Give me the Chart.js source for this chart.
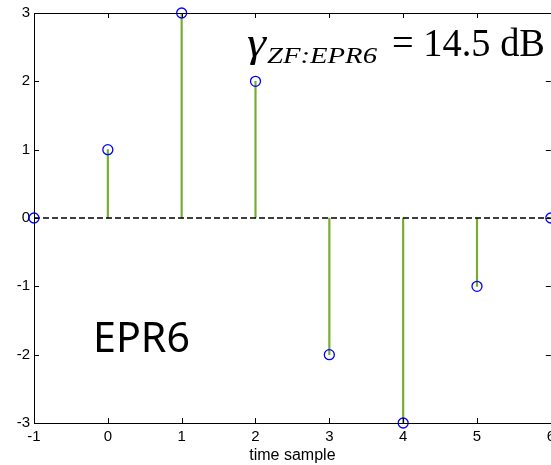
<!DOCTYPE html>
<html>
<head>
<meta charset="utf-8">
<script src="https://cdn.jsdelivr.net/npm/chart.js@4/dist/chart.umd.min.js"></script>
<style>
    html, body { margin: 0; padding: 0; background: #fff; overflow: hidden; }
    #contenedor { position: absolute; left: 0; top: 0; width: 560px; height: 465px; }
</style>
</head>
<body>
<div id="contenedor"><canvas id="grafico" width="560" height="465"></canvas></div>
<script>
// datos del grafico (stem plot)
const muestras = [-1, 0, 1, 2, 3, 4, 5, 6];
const valores = [0, 1, 3, 2, -2, -3, -1, 0];
const rangoX = [-1, 6];
const rangoY = [-3, 3];
const tituloX = 'time sample';
const etiquetaGanancia = { simbolo: 'γ', sub: 'ZF:EPR6', resto: '= 14.5 dB' };
const etiquetaCanal = 'EPR6';

const colorTallo = '#77ac30';
const colorCirculo = '#0000ff';

const puntos = muestras.map((m, i) => ({ x: m, y: valores[i] }));
const base = rangoX.map(x => ({ x: x, y: 0 }));

// texto ajustado a un ancho dado (escala horizontal)
function textoAjustado(ctx, texto, x, y, ancho, fuente) {
    ctx.save();
    ctx.font = fuente;
    ctx.textAlign = 'left';
    ctx.textBaseline = 'alphabetic';
    const w = ctx.measureText(texto).width;
    ctx.translate(x, y);
    ctx.scale(ancho / w, 1);
    ctx.fillText(texto, 0, 0);
    ctx.restore();
}

const marco = {
    id: 'marco',
    afterDraw(chart) {
        const { ctx, chartArea: a, scales } = chart;
        ctx.save();
        ctx.setLineDash([]);
        ctx.globalAlpha = 1;
        ctx.strokeStyle = '#000';
        ctx.lineWidth = 1;
        ctx.beginPath();
        ctx.rect(Math.round(a.left) + 0.5, Math.round(a.top) + 0.5,
                 Math.round(a.right - a.left), Math.round(a.bottom - a.top));
        for (let v = rangoX[0]; v <= rangoX[1]; v++) {
            const px = Math.round(scales.x.getPixelForValue(v)) + 0.5;
            ctx.moveTo(px, a.bottom); ctx.lineTo(px, a.bottom - 5);
            ctx.moveTo(px, a.top); ctx.lineTo(px, a.top + 5);
        }
        for (let v = rangoY[0]; v <= rangoY[1]; v++) {
            const py = Math.round(scales.y.getPixelForValue(v)) + 0.5;
            ctx.moveTo(a.left, py); ctx.lineTo(a.left + 5, py);
            ctx.moveTo(a.right, py); ctx.lineTo(a.right - 5, py);
        }
        ctx.stroke();

        ctx.fillStyle = '#000';
        textoAjustado(ctx, etiquetaGanancia.simbolo, 247, 56, 19, 'italic 39px "Liberation Serif"');
        textoAjustado(ctx, etiquetaGanancia.sub, 267, 63, 110, 'italic 23px "Liberation Serif"');
        textoAjustado(ctx, etiquetaGanancia.resto, 392, 56, 153, '39px "Liberation Serif"');
        textoAjustado(ctx, etiquetaCanal, 93, 352, 97, '42px "Noto Sans"');
        ctx.restore();
    }
};

new Chart(document.getElementById('grafico'), {
    type: 'bar',
    data: {
        datasets: [
            {
                type: 'scatter',
                data: puntos,
                showLine: false,
                pointStyle: 'circle',
                pointRadius: 5,
                pointBorderWidth: 1.3,
                pointBorderColor: colorCirculo,
                pointBackgroundColor: 'rgba(0,0,0,0)',
                clip: false,
                order: 1
            },
            {
                type: 'line',
                data: base,
                borderColor: '#000',
                borderWidth: 1.3,
                borderDash: [6, 3],
                pointRadius: 0,
                order: 2
            },
            {
                type: 'bar',
                data: puntos,
                backgroundColor: colorTallo,
                borderWidth: 0,
                barThickness: 1.5,
                order: 3
            }
        ]
    },
    options: {
        responsive: false,
        animation: false,
        layout: { padding: { top: 13, right: 8, left: 0, bottom: 0 } },
        plugins: { legend: { display: false }, tooltip: { enabled: false } },
        scales: {
            x: {
                type: 'linear',
                min: rangoX[0],
                max: rangoX[1],
                offset: false,
                grid: { display: false, drawTicks: false },
                border: { display: false },
                ticks: { stepSize: 1, color: '#000', padding: 5, maxRotation: 0,
                         font: { family: '"Liberation Sans"', size: 15 } },
                title: { display: true, text: tituloX, color: '#000',
                         font: { family: '"Liberation Sans"', size: 16 },
                         padding: { top: 0, bottom: 0 } },
                afterFit: (s) => { s.height = 42; }
            },
            y: {
                min: rangoY[0],
                max: rangoY[1],
                grid: { display: false, drawTicks: false },
                border: { display: false },
                ticks: { stepSize: 1, color: '#000', padding: 4,
                         font: { family: '"Liberation Sans"', size: 15 } },
                afterFit: (s) => { s.width = 34; }
            }
        }
    },
    plugins: [marco]
});
</script>
</body>
</html>
